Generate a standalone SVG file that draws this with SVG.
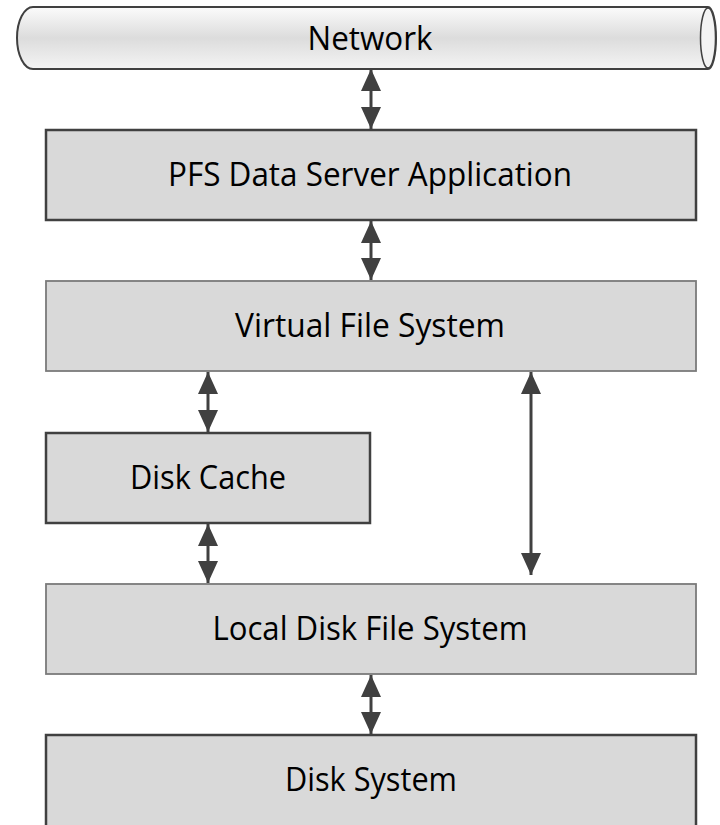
<svg xmlns="http://www.w3.org/2000/svg" width="720" height="825" viewBox="0 0 720 825">
<defs>
<linearGradient id="tube" x1="0" y1="0" x2="0" y2="1">
<stop offset="0" stop-color="#fbfbfb"/>
<stop offset="0.5" stop-color="#dcdcdc"/>
<stop offset="1" stop-color="#f4f4f4"/>
</linearGradient>
<marker id="ah" markerUnits="userSpaceOnUse" markerWidth="22" markerHeight="20" refX="22" refY="10" orient="auto-start-reverse">
<path d="M0,0 L22,10 L0,20 Z" fill="#404040"/>
</marker>
</defs>
<style>
.box{fill:#d9d9d9}
.dark{stroke:#404040;stroke-width:2.5}
.light{stroke:#7a7a7a;stroke-width:1.8}
.lbl{font-family:"Open Sans","Noto Sans","Liberation Sans",sans-serif;font-size:33px;fill:#000;text-anchor:middle}
.conn line{stroke:#404040;stroke-width:3;marker-start:url(#ah);marker-end:url(#ah)}
</style>
<rect width="720" height="825" fill="#fff"/>
<g id="network">
<path d="M33,7 L708,7 A8,31 0 0 1 708,69 L33,69 A16,31 0 0 1 33,7 Z" fill="url(#tube)" stroke="#404040" stroke-width="2"/>
<ellipse cx="708" cy="38" rx="7.5" ry="30" fill="#f3f3f3" stroke="#404040" stroke-width="1.5"/>
<text class="lbl" x="370" y="50" textLength="125" lengthAdjust="spacingAndGlyphs">Network</text>
</g>
<g id="pfs">
<rect class="box dark" x="46" y="130" width="650" height="90"/>
<text class="lbl" x="370" y="186" textLength="404" lengthAdjust="spacingAndGlyphs">PFS Data Server Application</text>
</g>
<g id="vfs">
<rect class="box light" x="46" y="281" width="650" height="90"/>
<text class="lbl" x="370" y="337" textLength="270" lengthAdjust="spacingAndGlyphs">Virtual File System</text>
</g>
<g id="diskcache">
<rect class="box dark" x="46" y="433" width="324" height="90"/>
<text class="lbl" x="208" y="489" textLength="156" lengthAdjust="spacingAndGlyphs">Disk Cache</text>
</g>
<g id="localfs">
<rect class="box light" x="46" y="584" width="650" height="90"/>
<text class="lbl" x="370" y="640" textLength="315" lengthAdjust="spacingAndGlyphs">Local Disk File System</text>
</g>
<g id="disksystem">
<rect class="box dark" x="46" y="735" width="650" height="110"/>
<text class="lbl" x="371" y="791" textLength="172" lengthAdjust="spacingAndGlyphs">Disk System</text>
</g>
<g id="connectors" class="conn">
<line x1="371" y1="69" x2="371" y2="129"/>
<line x1="371" y1="221" x2="371" y2="280"/>
<line x1="208" y1="372" x2="208" y2="432"/>
<line x1="208" y1="524" x2="208" y2="583"/>
<line x1="531" y1="372" x2="531" y2="575"/>
<line x1="371" y1="675" x2="371" y2="734"/>
</g>
</svg>
